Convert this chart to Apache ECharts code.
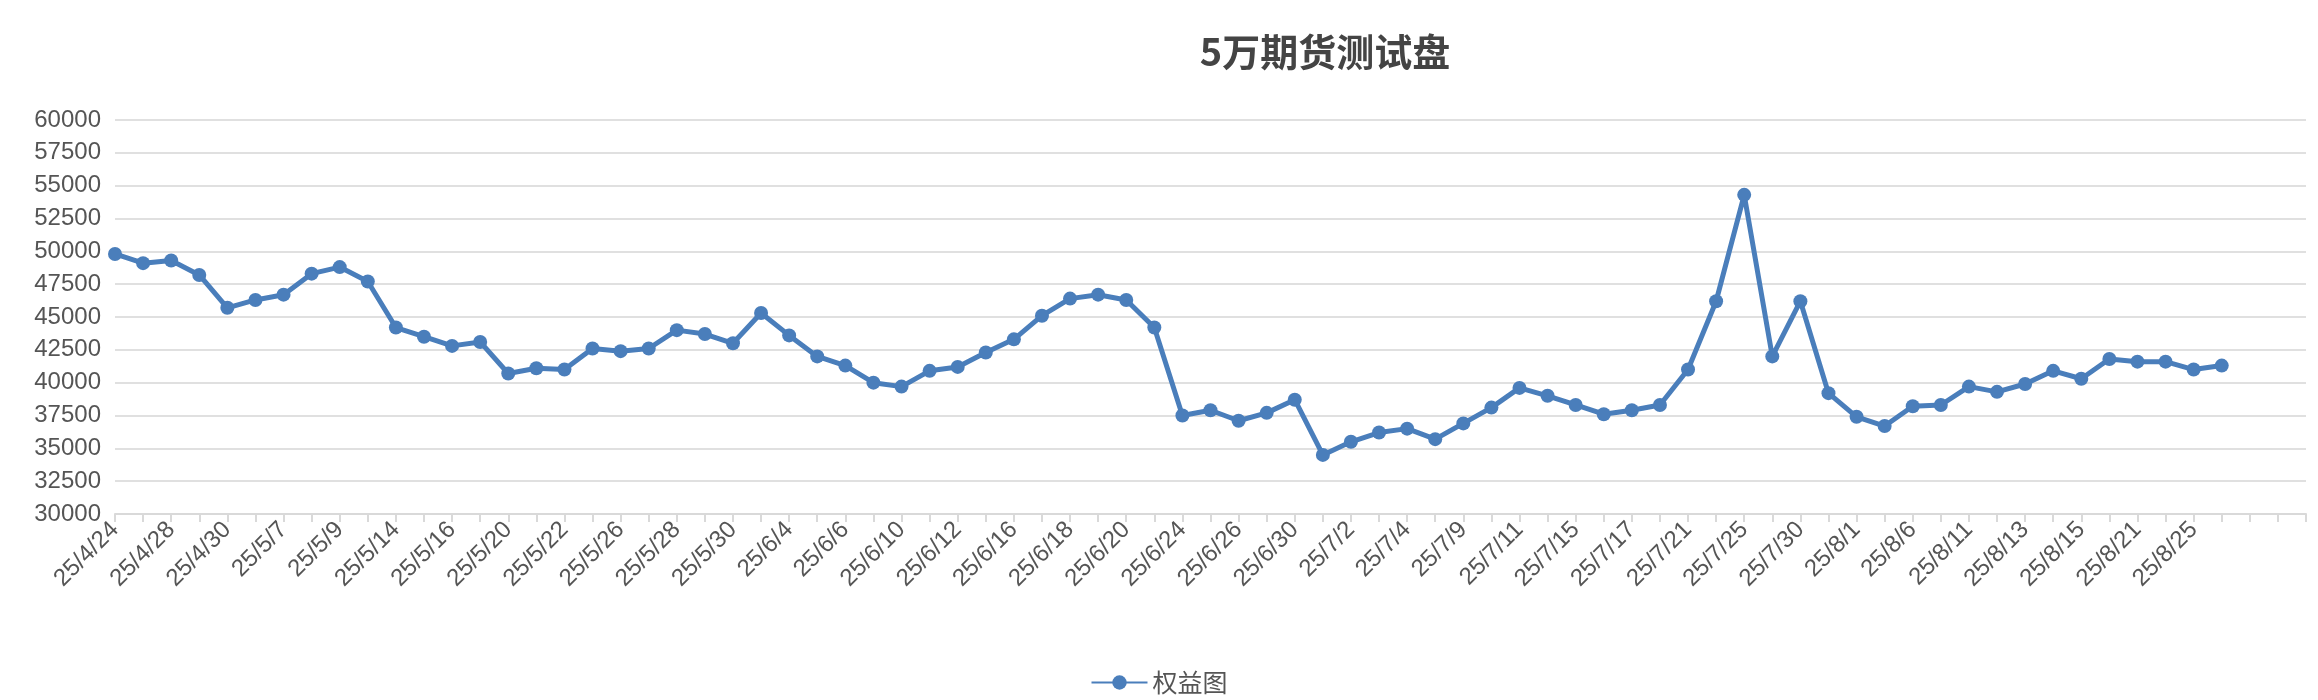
<!DOCTYPE html>
<html><head><meta charset="utf-8">
<script src="https://cdn.jsdelivr.net/npm/echarts@6/dist/echarts.min.js"></script>
<style>html,body{margin:0;padding:0;background:#fff}#c{width:2318px;height:700px}</style>
</head><body><div id="c"></div>
<script>
const categories = ['25/4/24','25/4/25','25/4/28','25/4/29','25/4/30','25/5/6','25/5/7','25/5/8','25/5/9','25/5/13','25/5/14','25/5/15','25/5/16','25/5/19','25/5/20','25/5/21','25/5/22','25/5/23','25/5/26','25/5/27','25/5/28','25/5/29','25/5/30','25/6/3','25/6/4','25/6/5','25/6/6','25/6/9','25/6/10','25/6/11','25/6/12','25/6/13','25/6/16','25/6/17','25/6/18','25/6/19','25/6/20','25/6/23','25/6/24','25/6/25','25/6/26','25/6/27','25/6/30','25/7/1','25/7/2','25/7/3','25/7/4','25/7/8','25/7/9','25/7/10','25/7/11','25/7/14','25/7/15','25/7/16','25/7/17','25/7/18','25/7/21','25/7/23','25/7/25','25/7/28','25/7/30','25/7/31','25/8/1','25/8/4','25/8/6','25/8/8','25/8/11','25/8/12','25/8/13','25/8/14','25/8/15','25/8/19','25/8/21','25/8/22','25/8/25','25/8/26','','',''];
const equity = [49800,49100,49300,48200,45700,46300,46700,48300,48800,47700,44200,43500,42800,43100,40700,41100,41000,42600,42400,42600,44000,43700,43000,45300,43600,42000,41300,40000,39700,40900,41200,42300,43300,45100,46400,46700,46300,44200,37500,37900,37100,37700,38700,34500,35500,36200,36500,35700,36900,38100,39600,39000,38300,37600,37900,38300,41000,46200,54300,42000,46200,39200,37400,36700,38200,38300,39700,39300,39900,40900,40300,41800,41600,41600,41000,41300];
const chart = echarts.init(document.getElementById('c'));
chart.setOption({
  animation:false,
  title:{text:'5万期货测试盘',left:1320,top:28,textAlign:'center',textStyle:{fontSize:38,fontWeight:'bold',color:'#444',fontFamily:'Noto Sans CJK SC'}},
  legend:{bottom:0,left:'center',itemWidth:56,itemHeight:18,textStyle:{fontSize:25,color:'#555',fontFamily:'Noto Sans CJK SC'},data:['权益图']},
  grid:{left:115,right:12,top:120,bottom:186},
  xAxis:{type:'category',data:categories,boundaryGap:false,
    axisLine:{lineStyle:{color:'#d9d9d9',width:2}},
    axisTick:{show:true,interval:0,length:8,lineStyle:{color:'#d9d9d9',width:2}},
    axisLabel:{interval:1,rotate:45,fontSize:24,color:'#555',fontFamily:'Liberation Sans',margin:12}},
  yAxis:{type:'value',min:30000,max:60000,interval:2500,
    axisLine:{show:false},axisTick:{show:false},
    splitLine:{lineStyle:{color:'#e0e0e0',width:2}},
    axisLabel:{fontSize:24,color:'#555',fontFamily:'Liberation Sans',margin:14,formatter:v=>String(v)}},
  series:[{name:'权益图',type:'line',data:equity,symbol:'circle',symbolSize:14,
    lineStyle:{color:'#4a7ebb',width:5},itemStyle:{color:'#4a7ebb'}}]
});
</script></body></html>
